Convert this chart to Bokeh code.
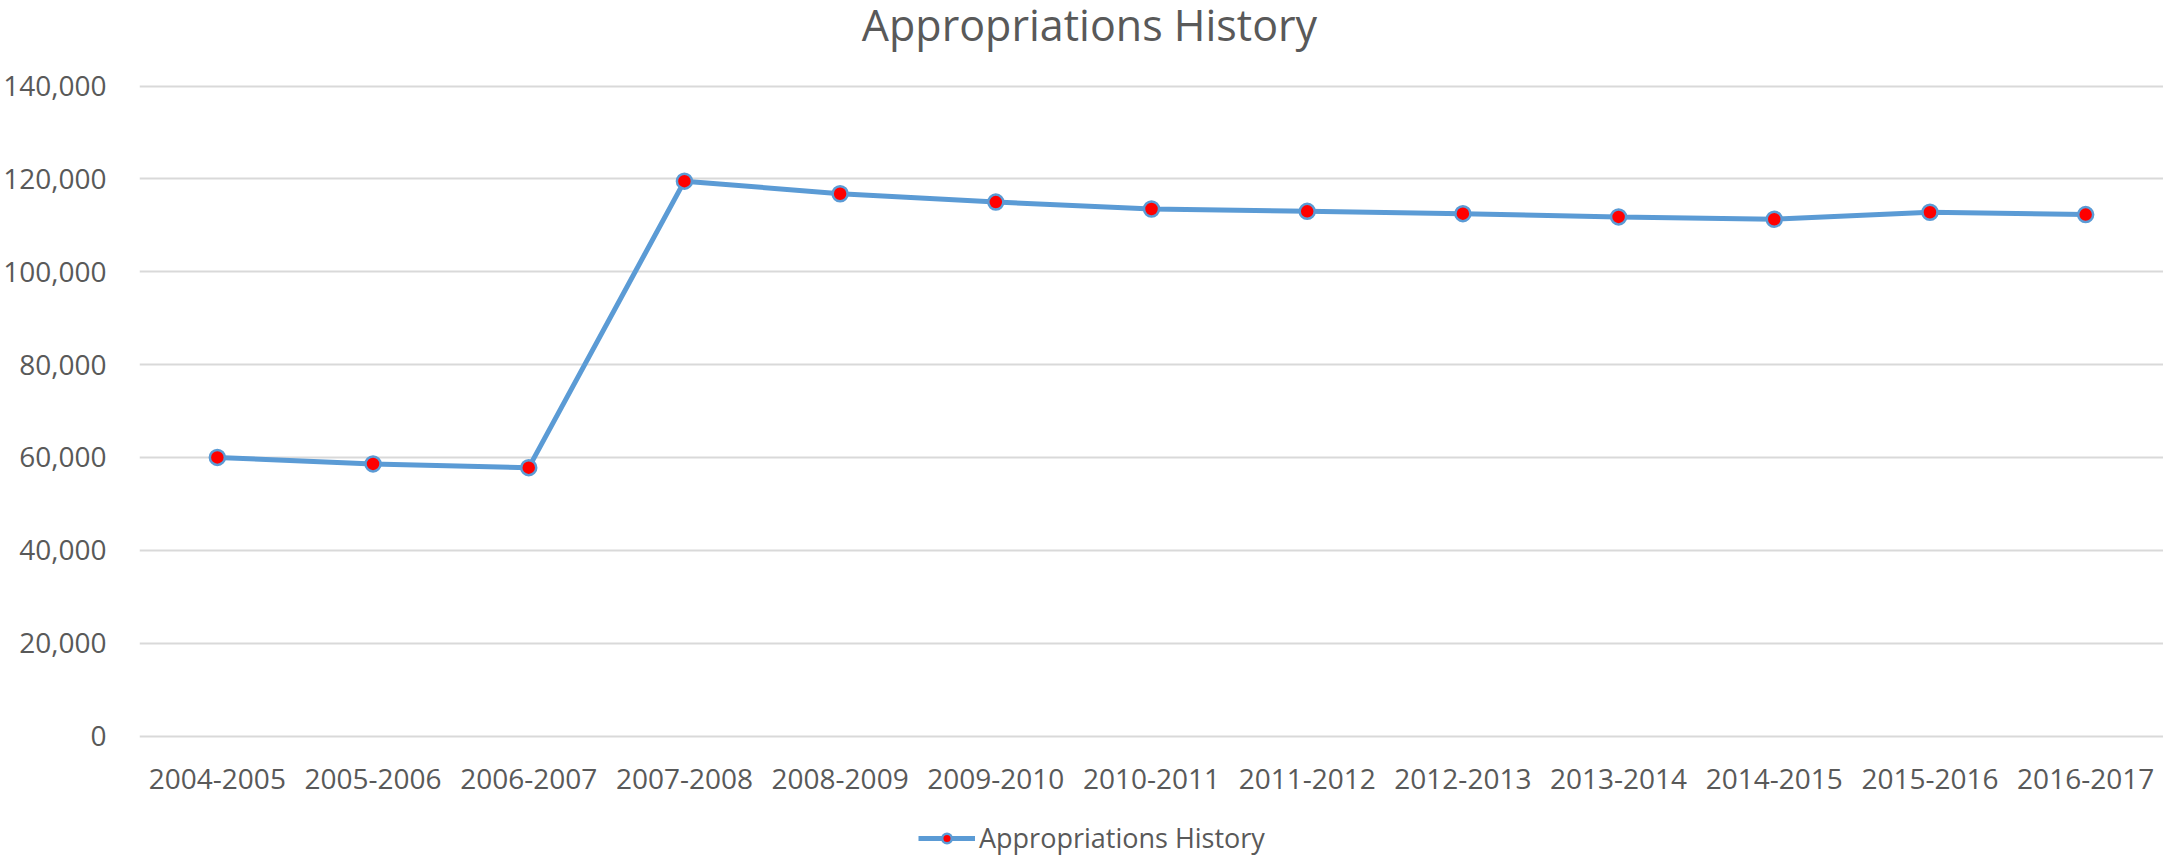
from bokeh.plotting import figure
from bokeh.models import (Range1d, FactorRange, NumeralTickFormatter, FixedTicker,
                          Legend, LegendItem, Label, ColumnDataSource)
from bokeh.embed import file_html
from bokeh.resources import INLINE

# ---- data ----
categories = ["2004-2005", "2005-2006", "2006-2007", "2007-2008", "2008-2009",
              "2009-2010", "2010-2011", "2011-2012", "2012-2013", "2013-2014",
              "2014-2015", "2015-2016", "2016-2017"]
appropriations = [60000, 58600, 57800, 119500, 116800, 115000, 113500,
                  113000, 112500, 111800, 111300, 112800, 112300]
y_ticks = [0, 20000, 40000, 60000, 80000, 100000, 120000, 140000]
series_name = "Appropriations History"
chart_title = "Appropriations History"

FONT = "Open Sans"
TXT = "#595959"
LINE = "#5b9bd5"

W, H = 2163, 856
FRAME_LEFT = 138
Y0_PX, Y140_PX = 735.5, 85.5          # pixel rows (from figure top) of 0 and 140,000
k = (Y0_PX - Y140_PX) / 140000.0      # px per unit
y_start = -(H - Y0_PX) / k
y_end = 140000 + Y140_PX / k

src = ColumnDataSource(dict(cat=categories, val=appropriations))

p = figure(width=W, height=H, output_backend="svg", toolbar_location=None,
           x_range=FactorRange(*categories, range_padding=0),
           y_range=Range1d(y_start, y_end),
           min_border_left=FRAME_LEFT, min_border_right=0, min_border_top=0,
           min_border_bottom=0)
p.outline_line_color = None
p.background_fill_color = "white"
p.border_fill_color = "white"

# axes
p.yaxis.ticker = FixedTicker(ticks=y_ticks)
p.yaxis.formatter = NumeralTickFormatter(format="0,0")
p.xaxis.fixed_location = 0
for ax in (p.xaxis[0], p.yaxis[0]):
    ax.axis_line_color = None
    ax.major_tick_line_color = None
    ax.minor_tick_line_color = None
    ax.major_label_text_font = FONT
    ax.major_label_text_color = TXT
    ax.major_label_text_font_size = "28px"
p.yaxis.major_label_standoff = 27
p.xaxis.major_label_standoff = 27

p.xgrid.grid_line_color = None
p.ygrid.grid_line_color = "#d9d9d9"
p.ygrid.grid_line_width = 2

ln = p.line("cat", "val", source=src, line_color=LINE, line_width=5)
sc = p.scatter("cat", "val", source=src, size=15, fill_color="red",
               line_color=LINE, line_width=2.5)

title = Label(x=950, y=H - 24, x_units="screen", y_units="screen", text=chart_title,
              text_font=FONT, text_font_size="43px", text_color=TXT,
              text_align="center", text_baseline="middle")
p.add_layout(title)

leg = Legend(items=[LegendItem(label=series_name, renderers=[ln, sc])],
             orientation="horizontal", location=(779, 0),
             label_text_font=FONT, label_text_font_size="27px", label_text_color=TXT,
             glyph_width=57, glyph_height=24, margin=0, padding=0, spacing=0,
             label_standoff=4, border_line_color=None, background_fill_alpha=0)
p.add_layout(leg, "center")

open("out.html", "w").write(file_html(p, INLINE))
